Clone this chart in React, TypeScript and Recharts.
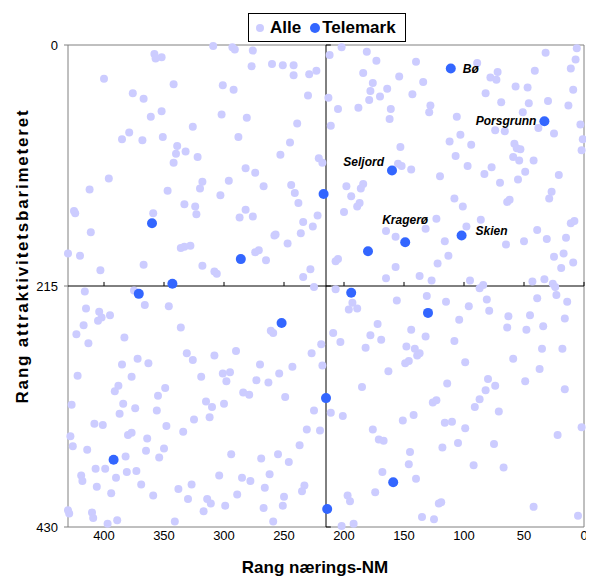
import { ScatterChart, Scatter, XAxis, YAxis, ReferenceLine, ReferenceArea, Legend, Label } from "recharts";

// rang nærings-NM (x) og rang attraktivitetsbarometeret (y), alle kommuner
const alle: [number, number][] = [
  [309, 1], [293, 2], [291, 4], [358, 8], [352, 11], [357, 12], [400, 30], [342, 35], [301, 36], [292, 40],
  [376, 43], [367, 48], [352, 59], [361, 64], [302, 62], [326, 73], [379, 78], [385, 84], [368, 85], [351, 82],
  [288, 82], [339, 90], [340, 97], [332, 95], [322, 100], [342, 105], [396, 119], [412, 129], [347, 130], [318, 122],
  [320, 128], [296, 121], [303, 134], [333, 142], [324, 144],
  [276, 5], [202, 2], [212, 9], [181, 6], [173, 14], [277, 19], [260, 17], [251, 18], [242, 18], [242, 27],
  [229, 26], [223, 23], [184, 25], [154, 28], [140, 15], [176, 34], [178, 41], [164, 39], [170, 46], [179, 49],
  [230, 45], [213, 47], [143, 44], [205, 57], [188, 56], [161, 57], [162, 66], [281, 65], [239, 70], [211, 72],
  [245, 87], [253, 98], [221, 101], [218, 105], [153, 91], [155, 106], [152, 108], [144, 111], [282, 110], [274, 114],
  [267, 126], [244, 125], [241, 132], [238, 141], [198, 126], [184, 124], [186, 128], [194, 135], [187, 141],
  [89, 16], [32, 7], [6, 3], [7, 13], [11, 21], [41, 23], [72, 24], [78, 29], [73, 31], [134, 33],
  [57, 37], [47, 38], [9, 40], [82, 43], [69, 51], [46, 52], [30, 50], [13, 54], [128, 54], [129, 60],
  [106, 64], [51, 60], [3, 71], [38, 74], [25, 79], [74, 76], [66, 77], [103, 80], [1, 84], [2, 94],
  [112, 86], [94, 89], [58, 88], [53, 93], [56, 92], [107, 99], [59, 100], [54, 103], [42, 103], [97, 108],
  [77, 109], [120, 117], [83, 115], [49, 113], [21, 116], [70, 123], [55, 120], [27, 131], [29, 137], [108, 137],
  [62, 138], [64, 140], [101, 144],
  [425, 148], [424, 150], [359, 150], [323, 151], [287, 154], [411, 167], [430, 186], [420, 188], [336, 181], [333, 180],
  [328, 179], [403, 201], [367, 196], [318, 197], [308, 202], [306, 204], [416, 220], [375, 219], [415, 235], [404, 238],
  [402, 243], [405, 246], [395, 241], [366, 232], [346, 233], [417, 250], [423, 258], [413, 266], [383, 261], [336, 252],
  [372, 280], [385, 285], [363, 284], [331, 275], [326, 281], [308, 277], [290, 273],
  [282, 147], [276, 153], [222, 152], [234, 158], [226, 162], [200, 149], [189, 144], [257, 169], [258, 170], [236, 168],
  [247, 177], [274, 185], [271, 183], [265, 192], [165, 166], [157, 171], [207, 193], [205, 191], [228, 200], [234, 207],
  [225, 216], [157, 198], [165, 208], [207, 218], [193, 230], [196, 236], [189, 235], [156, 228], [261, 255], [259, 257],
  [172, 249], [144, 254], [209, 257], [203, 265], [178, 259], [169, 263], [182, 270], [148, 269], [219, 267], [227, 275],
  [270, 285], [243, 287], [218, 286], [146, 282], [149, 284],
  [123, 155], [132, 164], [86, 156], [98, 162], [65, 178], [39, 165], [50, 175], [31, 173], [15, 172], [11, 159],
  [8, 157], [116, 175], [113, 188], [122, 195], [137, 206], [127, 210], [95, 210], [87, 217], [84, 214], [43, 211],
  [33, 209], [26, 213], [24, 216], [25, 189], [17, 186], [19, 199], [9, 194], [131, 224], [115, 229], [96, 233],
  [81, 227], [79, 237], [39, 226], [23, 223], [14, 229], [104, 245], [63, 242], [64, 252], [45, 241], [48, 254],
  [34, 251], [16, 244], [132, 260], [108, 264], [141, 271], [137, 275], [139, 277], [99, 283], [59, 280], [35, 271],
  [18, 271],
  [422, 295], [377, 296], [319, 296], [301, 293], [295, 292], [298, 300], [388, 304], [391, 309], [349, 306], [355, 313],
  [427, 321], [384, 320], [374, 324], [387, 329], [356, 326], [315, 318], [310, 323], [300, 320], [325, 334], [312, 332],
  [408, 338], [401, 339], [348, 340], [334, 345], [428, 349], [380, 348], [377, 346], [364, 351], [426, 358], [414, 361],
  [365, 362], [350, 360], [382, 367], [354, 368], [294, 365], [407, 378], [399, 378], [381, 381], [373, 380], [390, 386],
  [419, 384], [418, 389], [406, 394], [369, 392], [394, 400], [359, 402], [338, 396], [327, 392], [330, 405], [314, 405],
  [311, 409], [304, 384], [299, 411], [289, 401], [317, 416], [430, 415], [429, 418], [410, 417], [409, 422], [397, 427],
  [389, 424], [341, 425], [285, 386],
  [254, 293], [273, 299], [263, 301], [284, 310], [279, 312], [249, 314], [163, 291], [185, 305], [225, 326], [211, 328],
  [201, 331], [231, 343], [220, 344], [237, 357], [176, 343], [171, 352], [167, 353], [151, 335], [142, 330], [269, 369],
  [255, 365], [246, 372], [278, 389], [262, 383], [266, 395], [233, 393], [235, 398], [250, 403], [251, 411], [267, 413],
  [259, 425], [197, 402], [195, 407], [202, 429], [192, 427], [168, 381], [174, 399], [145, 363], [146, 374], [140, 387],
  [37, 289], [80, 298], [49, 300], [16, 307], [114, 302], [74, 304], [82, 308], [87, 316], [91, 323], [71, 327],
  [126, 319], [123, 317], [116, 337], [110, 336], [99, 342], [2, 341], [22, 348], [105, 355], [75, 356], [118, 359],
  [92, 375], [67, 377], [121, 409], [119, 408], [42, 412], [5, 420], [135, 421], [125, 423],
];

// Telemark-kommunene (navn kun der punktet er merket)
const telemark: { navn: string; nm: number; attr: number }[] = [
  { navn: "Bø", nm: 111, attr: 21 },
  { navn: "Porsgrunn", nm: 33, attr: 68 },
  { navn: "Seljord", nm: 160, attr: 112 },
  { navn: "", nm: 217, attr: 133 },
  { navn: "", nm: 360, attr: 159 },
  { navn: "", nm: 371, attr: 222 },
  { navn: "", nm: 343, attr: 213 },
  { navn: "", nm: 286, attr: 191 },
  { navn: "", nm: 180, attr: 184 },
  { navn: "Kragerø", nm: 149, attr: 176 },
  { navn: "", nm: 194, attr: 221 },
  { navn: "", nm: 252, attr: 248 },
  { navn: "Skien", nm: 102, attr: 170 },
  { navn: "", nm: 130, attr: 239 },
  { navn: "", nm: 392, attr: 370 },
  { navn: "", nm: 215, attr: 315 },
  { navn: "", nm: 214, attr: 414 },
  { navn: "", nm: 159, attr: 390 },
];

const xTicks = [0, 50, 100, 150, 200, 250, 300, 350, 400];
const yTicks = [0, 215, 430];
const maks = 430;
const midt = 215;

// plassering av etikettene rundt punktet
const etikett: Record<string, { dx: number; dy: number; anchor: "start" | "middle" | "end" }> = {
  "Bø": { dx: 12, dy: 4, anchor: "start" },
  Porsgrunn: { dx: -8, dy: 4, anchor: "end" },
  Seljord: { dx: -8, dy: -5, anchor: "end" },
  "Kragerø": { dx: 0, dy: -18, anchor: "middle" },
  Skien: { dx: 14, dy: -1, anchor: "start" },
};

const FONT = '"Liberation Sans", Arial, Helvetica, sans-serif';
const LILLA = "#CCCCFF";
const BLA = "#3366FF";

const AlleDot = (p: any) => <circle cx={p.cx} cy={p.cy} r={4} fill={LILLA} />;

const TelemarkDot = (p: any) => {
  const e = etikett[p.payload?.navn];
  return (
    <g>
      <circle cx={p.cx} cy={p.cy} r={5} fill={BLA} />
      {e && (
        <text x={p.cx + e.dx} y={p.cy + e.dy} textAnchor={e.anchor} fontSize={12} fontWeight="bold" fontStyle="italic" fill="#000" fontFamily={FONT}>
          {p.payload.navn}
        </text>
      )}
    </g>
  );
};

const LegendBox = () => (
  <div style={{ display: "flex", alignItems: "center", border: "1px solid #000", background: "#fff", width: 158, height: 29, padding: "0 6px", boxSizing: "border-box", fontWeight: "bold", fontSize: 17, fontFamily: FONT, color: "#000" }}>
    <svg width={10} height={10}><circle cx={5} cy={5} r={4} fill={LILLA} /></svg>
    <span style={{ marginLeft: 5 }}>Alle</span>
    <svg width={10} height={10} style={{ marginLeft: 9 }}><circle cx={5} cy={5} r={5} fill={BLA} /></svg>
    <span style={{ marginLeft: 2 }}>Telemark</span>
  </div>
);

const YTitle = ({ viewBox }: any) => {
  const x = viewBox.x + 14;
  const y = viewBox.y + viewBox.height / 2 - 30;
  return (
    <text x={x} y={y} transform={`rotate(-90, ${x}, ${y})`} textAnchor="middle" dominantBaseline="central" fontSize={17} letterSpacing={1.8} fontWeight="bold" fill="#000" fontFamily={FONT}>
      Rang attraktivitetsbarimeteret
    </text>
  );
};

const XTitle = ({ viewBox }: any) => (
  <text x={viewBox.x + viewBox.width / 2 - 11} y={viewBox.y + 40} textAnchor="middle" dominantBaseline="central" fontSize={17} fontWeight="bold" fill="#000" fontFamily={FONT}>
    Rang nærings-NM
  </text>
);

export default function App() {
  const alleData = alle.map(([nm, attr]) => ({ nm, attr }));
  return (
    <div style={{ fontFamily: FONT }}>
      <ScatterChart width={586} height={573} margin={{ top: 37, right: 10, left: 0, bottom: 0 }}>
        <XAxis type="number" dataKey="nm" domain={[0, maks]} ticks={xTicks} interval={0} reversed height={54}
          tick={{ fontSize: 13, fill: "#000" }} tickLine={false} axisLine={false} tickSize={0} tickMargin={4}>
          <Label content={XTitle} />
        </XAxis>
        <YAxis type="number" dataKey="attr" domain={[0, maks]} ticks={yTicks} interval={0} reversed width={60}
          tick={{ fontSize: 13, fill: "#000" }} tickLine={{ stroke: "#808080" }} axisLine={false} tickSize={4} tickMargin={6}>
          <Label content={YTitle} />
        </YAxis>
        <ReferenceArea x1={0} x2={maks} y1={0} y2={maks} fill="none" stroke="#808080" strokeWidth={1} />
        <ReferenceLine x={midt} stroke="#000" strokeWidth={1} />
        <ReferenceLine y={midt} stroke="#000" strokeWidth={1} />
        {xTicks.map((t) => (
          <ReferenceLine key={`xt${t}`} segment={[{ x: t, y: midt }, { x: t, y: midt - 3.6 }]} stroke="#000" />
        ))}
        {yTicks.map((t) => (
          <ReferenceLine key={`yt${t}`} segment={[{ x: midt, y: t }, { x: midt - 4, y: t }]} stroke="#000" />
        ))}
        <Legend content={<LegendBox />} layout="horizontal" verticalAlign="middle" align="center"
          wrapperStyle={{ top: 5, left: 240, width: 158, height: 29 }} />
        <Scatter name="Alle" data={alleData} fill={LILLA} shape={AlleDot} isAnimationActive={false} />
        <Scatter name="Telemark" data={telemark} fill={BLA} shape={TelemarkDot} isAnimationActive={false} />
      </ScatterChart>
    </div>
  );
}
